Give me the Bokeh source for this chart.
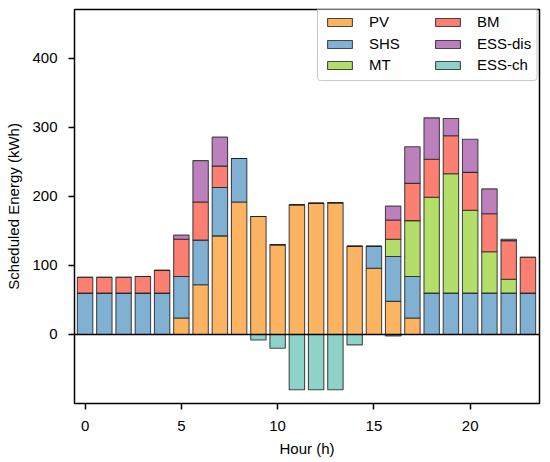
from bokeh.plotting import figure
from bokeh.models import (ColumnDataSource, FixedTicker, Legend, LegendItem, Span, Range1d,
                          BoxAnnotation)
from bokeh.embed import file_html
from bokeh.resources import INLINE

hours = list(range(24))
PV      = [0, 0, 0, 0, 0, 24, 72, 143, 192, 171, 130, 188, 190, 191, 128, 96, 48, 24, 0, 0, 0, 0, 0, 0]
SHS     = [60, 60, 60, 60, 60, 60, 65, 70, 63, 0, 0, 0, 0, 0, 0, 32, 65, 60, 60, 60, 60, 60, 60, 60]
MT      = [0, 0, 0, 0, 0, 0, 0, 0, 0, 0, 0, 0, 0, 0, 0, 0, 25, 81, 139, 173, 120, 60, 20, 0]
BM      = [23, 23, 23, 24, 33, 54, 55, 31, 0, 0, 0, 0, 0, 0, 0, 0, 28, 54, 55, 55, 55, 55, 56, 52]
ESS_dis = [0, 0, 0, 0, 0, 6, 60, 42, 0, 0, 0, 0, 0, 0, 0, 0, 20, 53, 60, 25, 48, 36, 2, 0]
ESS_ch  = [0, 0, 0, 0, 0, 0, 0, 0, 0, -8, -20, -80, -80, -80, -15, 0, -2, 0, 0, 0, 0, 0, 0, 0]

names = ["PV", "SHS", "MT", "BM", "ESS-dis"]
colors = ["#FDB462", "#80B1D3", "#B3DE69", "#FB8072", "#BC80BD"]
ch_color = "#8DD3C7"

src = ColumnDataSource(dict(hour=hours, PV=PV, SHS=SHS, MT=MT, BM=BM, **{"ESS-dis": ESS_dis}, ch=ESS_ch,
                            zero=[0] * 24))

p = figure(width=550, height=462, output_backend="svg", toolbar_location=None,
           x_range=Range1d(-0.55, 23.6), y_range=Range1d(-100, 471),
           min_border_left=74, min_border_right=11, min_border_top=9, min_border_bottom=59)

renderers = p.vbar_stack(names, x="hour", width=0.8, source=src, color=colors,
                         line_color="#222222", line_alpha=0.8, line_width=1.1)
ch_r = p.vbar(x="hour", top="zero", bottom="ch", width=0.8, source=src, fill_color=ch_color,
              line_color="#222222", line_alpha=0.8, line_width=1.1)

p.add_layout(Span(location=0, dimension="width", line_color="black", line_width=1.6))

# legend frame (two columns x three rows share one box)
p.add_layout(BoxAnnotation(left=12.07, right=23.47, top=480, bottom=368,
                           fill_color="white", fill_alpha=0.9,
                           line_color="#c8c8c8", line_width=1, line_alpha=1,
                           border_radius=3, level="annotation"))

all_r = list(renderers) + [ch_r]
all_n = names + ["ESS-ch"]

col_x = [250, 358]
row_y = [373, 351, 330]
for i, (n, r) in enumerate(zip(all_n, all_r)):
    col, row = divmod(i, 3)
    p.add_layout(Legend(items=[LegendItem(label=n, renderers=[r])],
                        location=(col_x[col], row_y[row]), orientation="vertical",
                        label_text_font="Liberation Sans", label_text_font_size="15px",
                        label_text_color="black",
                        glyph_width=31, glyph_height=10, label_height=17, spacing=0,
                        padding=0, margin=0, border_line_color=None,
                        background_fill_alpha=0, label_standoff=14,
                        item_background_fill_alpha=0))

p.grid.visible = False
p.outline_line_color = "black"
p.outline_line_width = 1.5
p.background_fill_color = "white"

for ax in (p.xaxis[0], p.yaxis[0]):
    ax.axis_line_color = None
    ax.major_tick_line_color = "black"
    ax.major_tick_line_width = 1.5
    ax.major_tick_out = 6
    ax.major_tick_in = 0
    ax.minor_tick_line_color = None
    ax.major_label_text_font = "Liberation Sans"
    ax.major_label_text_font_size = "15px"
    ax.major_label_text_color = "black"
    ax.axis_label_text_font = "Liberation Sans"
    ax.axis_label_text_font_size = "15px"
    ax.axis_label_text_font_style = "normal"
    ax.axis_label_text_color = "black"

p.xaxis.ticker = FixedTicker(ticks=[0, 5, 10, 15, 20])
p.yaxis.ticker = FixedTicker(ticks=[0, 100, 200, 300, 400])
p.xaxis.axis_label = "Hour (h)"
p.yaxis.axis_label = "Scheduled Energy (kWh)"
p.xaxis.major_label_standoff = 11
p.yaxis.major_label_standoff = 11
p.xaxis.axis_label_standoff = 6
p.yaxis.axis_label_standoff = 7

open("out.html", "w").write(file_html(p, INLINE))
